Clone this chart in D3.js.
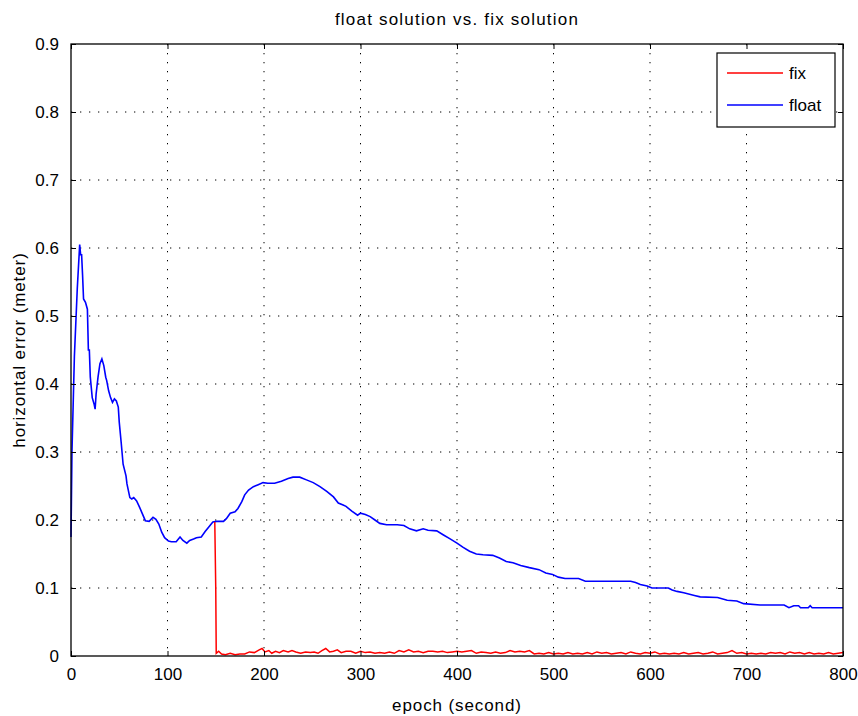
<!DOCTYPE html>
<html>
<head>
<meta charset="utf-8">
<script src="https://cdn.jsdelivr.net/npm/d3@7"></script>
<style>
  body { margin: 0; background: #fff; }
  svg text { font-family: "Liberation Sans", Arial, sans-serif; fill: #000; }
</style>
</head>
<body>
<svg id="canvas" width="858" height="716"></svg>
<script>
// tick values for both axes
const xTicks = [0, 100, 200, 300, 400, 500, 600, 700, 800];
const yTicks = [0, 0.1, 0.2, 0.3, 0.4, 0.5, 0.6, 0.7, 0.8, 0.9];

// float solution: [epoch, horizontal error]
const floatData = [
  [0, 0.175], [1, 0.30], [3.5, 0.44], [6.5, 0.54], [9, 0.605], [10, 0.59], [11, 0.59],
  [12, 0.56], [13, 0.525], [15, 0.52], [17, 0.51], [18, 0.45], [19, 0.45], [20, 0.41],
  [22, 0.38], [24, 0.37], [25, 0.363], [26, 0.385], [28, 0.41], [30, 0.43], [32, 0.437],
  [34, 0.427], [36, 0.41], [37, 0.405], [39, 0.39], [41, 0.38], [43, 0.373], [45, 0.378],
  [47, 0.375], [49, 0.366], [50, 0.344], [52, 0.314], [54, 0.282], [57, 0.265], [58, 0.253],
  [61, 0.233], [63, 0.231], [65, 0.233], [68, 0.228], [71, 0.219], [74, 0.209], [77, 0.199],
  [81, 0.198], [85, 0.204], [88, 0.201], [91, 0.194], [94, 0.182], [97, 0.174], [101, 0.169],
  [104, 0.168], [109, 0.168], [113, 0.175], [116, 0.17], [120, 0.166], [123, 0.17],
  [127, 0.172], [130, 0.174], [135, 0.175], [139, 0.183], [143, 0.19], [147, 0.197],
  [151, 0.198], [155, 0.198], [158, 0.198], [161, 0.202], [165, 0.21], [170, 0.212],
  [173, 0.217], [177, 0.227], [180, 0.237], [184, 0.244], [189, 0.249], [194, 0.252],
  [199, 0.255], [204, 0.254], [211, 0.254], [218, 0.257], [225, 0.261], [230, 0.263],
  [237, 0.263], [244, 0.259], [251, 0.255], [258, 0.249], [265, 0.242], [272, 0.234],
  [277, 0.225], [282, 0.222], [285, 0.22], [291, 0.213], [297, 0.207], [300, 0.21],
  [305, 0.208], [310, 0.205], [315, 0.2], [320, 0.195], [327, 0.193], [338, 0.193],
  [345, 0.192], [351, 0.187], [358, 0.184], [365, 0.187], [370, 0.185], [379, 0.184],
  [386, 0.178], [392, 0.173], [400, 0.166], [406, 0.16], [413, 0.154], [420, 0.15],
  [427, 0.149], [437, 0.148], [444, 0.144], [451, 0.139], [458, 0.137], [466, 0.133],
  [475, 0.13], [485, 0.127], [492, 0.122], [499, 0.12], [505, 0.116], [512, 0.114],
  [526, 0.114], [533, 0.11], [580, 0.11], [585, 0.108], [590, 0.105], [597, 0.103],
  [602, 0.1], [619, 0.1], [623, 0.097], [628, 0.095], [635, 0.093], [646, 0.089],
  [652, 0.087], [670, 0.086], [680, 0.082], [690, 0.081], [697, 0.077], [714, 0.075],
  [739, 0.075], [744, 0.071], [749, 0.074], [754, 0.074], [756, 0.071], [764, 0.071],
  [766, 0.074], [768, 0.071], [800, 0.071]
];

// fix solution: [epoch, horizontal error], starts when ambiguity is fixed
const fixData = [
  [149, 0.197], [150, 0.1], [150.5, 0.004], [153, 0.007], [156, 0.003], [160, 0.002],
  [165, 0.004], [170, 0.002], [175, 0.003], [180, 0.003], [185, 0.006], [190, 0.005],
  [195, 0.009], [198, 0.011], [201, 0.006], [205, 0.008], [208, 0.004], [212, 0.007],
  [216, 0.005], [220, 0.008], [225, 0.006], [229, 0.008], [233, 0.006], [238, 0.004],
  [243, 0.006], [248, 0.005], [252, 0.006], [256, 0.004], [260, 0.008], [264, 0.011],
  [268, 0.006], [272, 0.007], [276, 0.009], [280, 0.005], [285, 0.007], [290, 0.007],
  [295, 0.004], [300, 0.007], [305, 0.005], [310, 0.006], [315, 0.004], [320, 0.005],
  [325, 0.004], [330, 0.006], [335, 0.004], [340, 0.008], [345, 0.006], [350, 0.009],
  [355, 0.006], [360, 0.007], [365, 0.005], [370, 0.007], [375, 0.007], [380, 0.006],
  [385, 0.007], [390, 0.005], [395, 0.006], [400, 0.007], [405, 0.006], [410, 0.007],
  [415, 0.008], [420, 0.004], [425, 0.006], [430, 0.005], [435, 0.004], [440, 0.006],
  [445, 0.004], [450, 0.005], [455, 0.008], [460, 0.006], [465, 0.007], [470, 0.006],
  [475, 0.008], [480, 0.003], [485, 0.004], [490, 0.003], [495, 0.005], [500, 0.003],
  [505, 0.004], [510, 0.003], [515, 0.005], [520, 0.003], [525, 0.004], [530, 0.003],
  [535, 0.005], [540, 0.003], [545, 0.006], [550, 0.004], [555, 0.005], [560, 0.003],
  [565, 0.004], [570, 0.005], [575, 0.003], [580, 0.006], [585, 0.004], [590, 0.003],
  [595, 0.005], [600, 0.004], [605, 0.006], [610, 0.003], [615, 0.004], [620, 0.003],
  [625, 0.004], [630, 0.003], [635, 0.005], [640, 0.003], [645, 0.004], [650, 0.005],
  [655, 0.003], [660, 0.004], [665, 0.006], [670, 0.003], [675, 0.004], [680, 0.005],
  [685, 0.008], [690, 0.004], [695, 0.005], [700, 0.003], [705, 0.004], [710, 0.003],
  [715, 0.004], [720, 0.003], [725, 0.005], [730, 0.004], [735, 0.005], [740, 0.003],
  [745, 0.006], [750, 0.004], [755, 0.005], [760, 0.003], [765, 0.005], [770, 0.003],
  [775, 0.004], [780, 0.003], [785, 0.005], [790, 0.003], [795, 0.004], [800, 0.005]
];

const seriesNames = ["fix", "float"];
const seriesColors = ["#ff0000", "#0000ff"];

const svg = d3.select("#canvas");
const margin = { left: 71, right: 15, top: 44, bottom: 60 };
const width = 858 - margin.left - margin.right;
const height = 716 - margin.top - margin.bottom;

const x = d3.scaleLinear().domain([0, 800]).range([0, width]);
const y = d3.scaleLinear().domain([0, 0.9]).range([height, 0]);

const g = svg.append("g").attr("transform", `translate(${margin.left},${margin.top})`);

// dotted grid
g.append("g")
  .selectAll("line")
  .data(xTicks.slice(1, -1))
  .join("line")
  .attr("x1", (d) => x(d)).attr("x2", (d) => x(d))
  .attr("y1", 0).attr("y2", height)
  .attr("stroke", "#000")
  .attr("stroke-dasharray", "1.3,7.7");

g.append("g")
  .selectAll("line")
  .data(yTicks.slice(1, -1))
  .join("line")
  .attr("y1", (d) => y(d)).attr("y2", (d) => y(d))
  .attr("x1", 0).attr("x2", width)
  .attr("stroke", "#000")
  .attr("stroke-dasharray", "1.3,7.7");

// data lines
const line = d3.line().x((d) => x(d[0])).y((d) => y(d[1]));

g.append("path")
  .datum(floatData)
  .attr("d", line)
  .attr("fill", "none")
  .attr("stroke", seriesColors[1])
  .attr("stroke-width", 1.6);

g.append("path")
  .datum(fixData)
  .attr("d", line)
  .attr("fill", "none")
  .attr("stroke", seriesColors[0])
  .attr("stroke-width", 1.5);

// axes with inward ticks on all sides
const fmt = (d) => (d === 0 ? "0" : d3.format(".1f")(d));
const styleAxis = (sel) => {
  sel.select(".domain").remove();
  sel.selectAll("text").attr("font-size", "17px").attr("fill", "#000");
  sel.selectAll("line").attr("stroke", "#000");
};

g.append("g")
  .attr("transform", `translate(0,${height})`)
  .call(d3.axisBottom(x).tickValues(xTicks).tickSize(-5).tickPadding(12).tickFormat(d3.format("d")))
  .call(styleAxis);

g.append("g")
  .call(d3.axisTop(x).tickValues(xTicks).tickSize(-5).tickFormat(""))
  .call(styleAxis);

g.append("g")
  .call(d3.axisLeft(y).tickValues(yTicks).tickSize(-5).tickPadding(12).tickFormat(fmt))
  .call(styleAxis);

g.append("g")
  .attr("transform", `translate(${width},0)`)
  .call(d3.axisRight(y).tickValues(yTicks).tickSize(-5).tickFormat(""))
  .call(styleAxis);

// axes box
g.append("rect")
  .attr("width", width).attr("height", height)
  .attr("fill", "none").attr("stroke", "#000").attr("stroke-width", 1.3);

// titles
svg.append("text")
  .attr("x", margin.left + width / 2).attr("y", 25)
  .attr("text-anchor", "middle").attr("font-size", "17px")
  .attr("letter-spacing", "1.2px")
  .text("float solution vs. fix solution");

svg.append("text")
  .attr("x", margin.left + width / 2).attr("y", 711)
  .attr("text-anchor", "middle").attr("font-size", "17px")
  .attr("letter-spacing", "0.9px")
  .text("epoch (second)");

svg.append("text")
  .attr("transform", `translate(25,${margin.top + height / 2}) rotate(-90)`)
  .attr("text-anchor", "middle").attr("font-size", "17px")
  .attr("letter-spacing", "0.9px")
  .text("horizontal error (meter)");

// legend
const legend = g.append("g").attr("transform", `translate(${width - 126},9)`);
legend.append("rect")
  .attr("width", 118).attr("height", 74)
  .attr("fill", "#fff").attr("stroke", "#000").attr("stroke-width", 1.2);

legend.selectAll(".entry")
  .data(seriesNames)
  .join("g")
  .attr("class", "entry")
  .attr("transform", (d, i) => `translate(0,${20 + i * 32})`)
  .each(function (d, i) {
    const e = d3.select(this);
    e.append("line")
      .attr("x1", 10).attr("x2", 66)
      .attr("stroke", seriesColors[i]).attr("stroke-width", 1.4);
    e.append("text")
      .attr("x", 72).attr("dy", "0.35em")
      .attr("font-size", "17px")
      .text(d);
  });
</script>
</body>
</html>
